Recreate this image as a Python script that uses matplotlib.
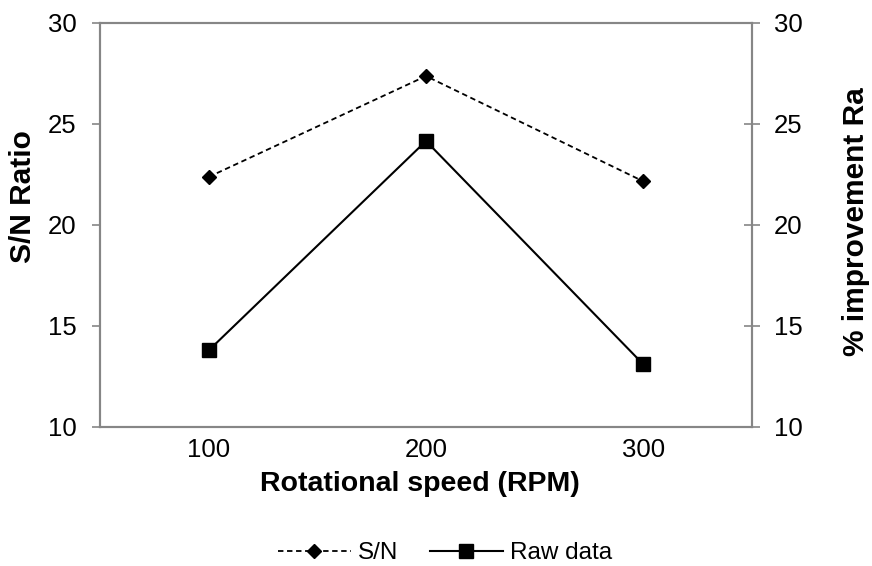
import matplotlib
matplotlib.use("Agg")
import matplotlib.pyplot as plt
from matplotlib.lines import Line2D
from matplotlib.ticker import FixedLocator

plt.rcParams['font.family'] = ['Liberation Sans', 'DejaVu Sans']

speeds = ["100", "200", "300"]
sn_ratio = [22.37, 27.37, 22.15]
raw_improvement = [13.77, 24.15, 13.08]
y_ticks = [10, 15, 20, 25, 30]

W, H = 872, 566
fig = plt.figure(figsize=(W / 100, H / 100), dpi=100)
ax = fig.add_axes([100 / W, 1 - 426.5 / H, 652 / W, 403.5 / H])
ax2 = ax.twinx()

sn_style = dict(color='black', linestyle=(0, (3, 2)), linewidth=1.3,
                marker='D', markersize=6.8)
raw_style = dict(color='black', linestyle='-', linewidth=1.5,
                 marker='s', markersize=10.5)

x = list(range(1, len(speeds) + 1))
ax.plot(x, sn_ratio, zorder=3, **sn_style)
ax2.plot(x, raw_improvement, zorder=3, **raw_style)

for a in (ax, ax2):
    a.set_ylim(10, 30)
    a.set_yticks(y_ticks)
    a.set_xlim(0.5, 3.5)
    for s in a.spines.values():
        s.set_color('#868686')
        s.set_linewidth(1.5)

ax.tick_params(axis='y', colors='#868686', labelcolor='black',
               labelsize=18.5, length=6, width=1.2, direction='out', pad=11)
ax2.tick_params(axis='y', colors='#868686', labelcolor='black',
                labelsize=18.5, length=12, width=1.2, direction='inout', pad=10)

ax.set_xticks(x)
ax.set_xticklabels(speeds)
ax.tick_params(axis='x', which='major', length=0, labelsize=18.5, pad=8)
ax.xaxis.set_minor_locator(FixedLocator([3]))
ax.tick_params(axis='x', which='minor', length=3, width=1.0, colors='#868686')

fig.text(23 / W, 1 - 197 / H, 'S/N Ratio', rotation=90, ha='center',
         va='center', fontsize=21.5, fontweight='bold')
fig.text(856 / W, 1 - 222 / H, '% improvement Ra', rotation=90, ha='center',
         va='center', fontsize=21.5, fontweight='bold')
fig.text(420 / W, 1 - 484 / H, 'Rotational speed (RPM)', ha='center',
         va='center', fontsize=20.5, fontweight='bold')

handles = [Line2D([], [], **sn_style), Line2D([], [], **raw_style)]
fig.legend(handles, ['S/N', 'Raw data'], loc='center', ncol=2,
           bbox_to_anchor=(445 / W, 1 - 553 / H), frameon=False, fontsize=17.5,
           handlelength=3, columnspacing=1.3, handletextpad=0.3,
           borderpad=0, borderaxespad=0)

fig.savefig('out.png', dpi=100)
